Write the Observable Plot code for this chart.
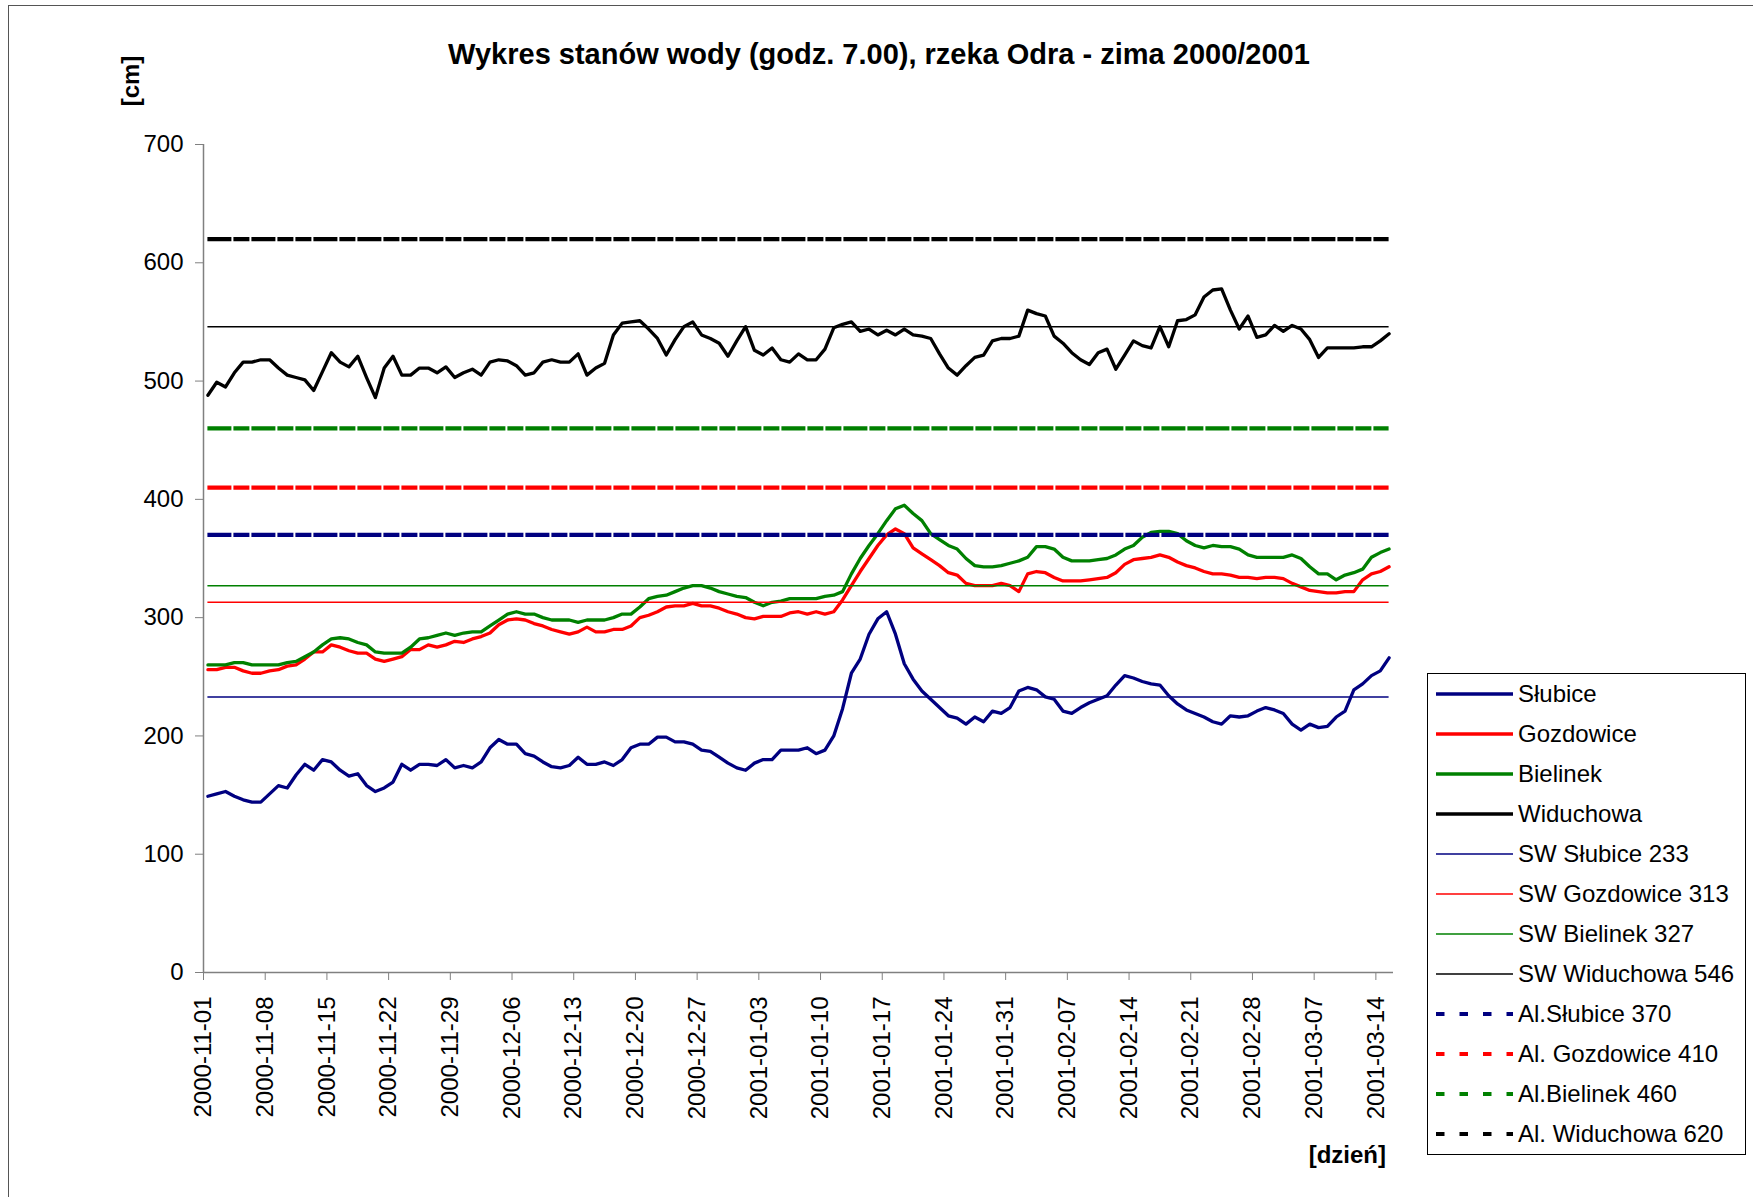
<!DOCTYPE html>
<html>
<head>
<meta charset="utf-8">
<script src="https://cdn.jsdelivr.net/npm/d3@7"></script>
<script src="https://cdn.jsdelivr.net/npm/@observablehq/plot@0.6"></script>
<style>
  html, body { margin: 0; padding: 0; background: #fff; }
  #wrap { position: relative; width: 1753px; height: 1197px; overflow: hidden; background: #fff;
          font-family: "Liberation Sans", Arial, sans-serif; color: #000; }
  #wrap svg.plot { position: absolute; left: 0; top: 0; }
  .frame { position: absolute; left: 8px; top: 5px; width: 2000px; height: 2000px;
           border-left: 1.5px solid #555; border-top: 1.5px solid #555; }
  .title { position: absolute; left: 0; top: 40px; width: 1758px; text-align: center;
           font-weight: bold; font-size: 29px; line-height: 29px; white-space: nowrap; }
  .ylab { position: absolute; left: 131px; top: 81px; font-weight: bold; font-size: 24px;
          line-height: 24px; transform: translate(-50%, -50%) rotate(-90deg); white-space: nowrap; }
  .xlab { position: absolute; right: 367px; top: 1143px; font-weight: bold; font-size: 24px;
          line-height: 24px; white-space: nowrap; }
  .legend { position: absolute; left: 1427px; top: 673px; width: 319px; height: 482px;
            border: 1px solid #000; box-sizing: border-box; background: #fff; }
  .legend .row { position: absolute; left: 0; height: 40px; width: 100%; }
  .legend svg { position: absolute; left: 8px; top: 15px; }
  .legend span { position: absolute; left: 90px; top: 8px; font-size: 24px; line-height: 24px; white-space: nowrap; }
</style>
</head>
<body>
<div id="wrap">
  <div class="frame"></div>
</div>
<script>
// ---- data ----
const startDate = "2000-11-01"; // first day of the daily series

const slubice = [
  149,151,153,149,146,144,144,151,158,156,167,176,171,180,178,171,166,168,158,153,
  156,161,176,171,176,176,175,180,173,175,173,178,190,197,
  193,193,185,183,178,174,173,175,182,176,176,178,175,180,190,193,193,199,199,195,
  195,193,188,187,182,177,173,171,177,180,180,188,188,188,
  190,185,188,200,223,253,265,286,299,305,286,261,248,238,231,224,217,215,210,216,
  212,221,219,224,238,241,239,233,231,221,219,224,228,231,
  234,243,251,249,246,244,243,234,227,222,219,216,212,210,217,216,217,221,224,222,
  219,210,205,210,207,208,216,221,239,244,251,255,266
];
const gozdowice = [
  256,256,258,258,255,253,253,255,256,259,260,265,271,271,277,275,272,270,270,265,
  263,265,267,273,273,277,275,277,280,279,282,284,287,294,
  298,299,298,295,293,290,288,286,288,292,288,288,290,290,293,300,302,305,309,310,
  310,312,310,310,308,305,303,300,299,301,301,301,304,305,
  303,305,303,305,315,327,339,350,361,370,375,371,359,354,349,344,338,336,329,327,
  327,327,329,327,322,337,339,338,334,331,331,331,332,333,
  334,338,345,349,350,351,353,351,347,344,342,339,337,337,336,334,334,333,334,334,
  333,329,326,323,322,321,321,322,322,332,337,339,343
];
const bielinek = [
  260,260,260,262,262,260,260,260,260,262,263,267,271,277,282,283,282,279,277,271,
  270,270,270,275,282,283,285,287,285,287,288,288,293,298,
  303,305,303,303,300,298,298,298,296,298,298,298,300,303,303,309,316,318,319,322,
  325,327,327,325,322,320,318,317,313,310,313,314,316,316,
  316,316,318,319,322,337,350,361,371,382,392,395,388,382,371,366,361,358,350,344,
  343,343,344,346,348,351,360,360,358,351,348,348,348,349,
  350,353,358,361,368,372,373,373,371,365,361,359,361,360,360,358,353,351,351,351,
  351,353,350,343,337,337,332,336,338,341,351,355,358
];
const widuchowa = [
  488,499,495,507,516,516,518,518,511,505,503,501,492,508,524,516,512,521,503,486,
  511,521,505,505,511,511,507,512,503,507,510,505,516,518,
  517,513,505,507,516,518,516,516,523,505,511,515,539,549,550,551,544,536,522,535,
  546,550,539,536,532,521,534,546,526,522,528,518,516,523,
  518,518,527,545,548,550,542,544,539,543,539,544,539,538,536,523,511,505,513,520,
  522,534,536,536,538,560,557,555,538,532,524,518,514,524,
  527,510,522,534,530,528,546,529,551,552,556,571,577,578,560,544,555,537,539,547,
  542,547,544,535,520,528,528,528,528,529,529,534,540
];

const seriesNames  = ["Słubice", "Gozdowice", "Bielinek", "Widuchowa"];
const seriesColors = ["#000080", "#ff0000", "#008000", "#000000"];
const swNames  = ["SW Słubice 233", "SW Gozdowice 313", "SW Bielinek 327", "SW Widuchowa 546"];
const swValues = [233, 313, 327, 546];
const alNames  = ["Al.Słubice 370", "Al. Gozdowice 410", "Al.Bielinek 460", "Al. Widuchowa 620"];
const alValues = [370, 410, 460, 620];

const xTickLabels = [
  "2000-11-01","2000-11-08","2000-11-15","2000-11-22","2000-11-29","2000-12-06","2000-12-13",
  "2000-12-20","2000-12-27","2001-01-03","2001-01-10","2001-01-17","2001-01-24","2001-01-31",
  "2001-02-07","2001-02-14","2001-02-21","2001-02-28","2001-03-07","2001-03-14"
];
const yTicks = [0, 100, 200, 300, 400, 500, 600, 700];

const titleText = "Wykres stanów wody (godz. 7.00), rzeka Odra - zima 2000/2001";
const yLabelText = "[cm]";
const xLabelText = "[dzień]";

// ---- build ----
const parse = d3.utcParse("%Y-%m-%d");
const day0 = parse(startDate);
const allValues = [slubice, gozdowice, bielinek, widuchowa];
const nDays = slubice.length;
const pointDate = i => d3.utcHour.offset(d3.utcDay.offset(day0, i), 12); // category centre
const table = allValues.flatMap((vals, k) =>
  vals.map((v, i) => ({series: seriesNames[k], date: pointDate(i), value: v})));
const firstPoint = pointDate(0);
const lastPoint = pointDate(nDays - 1);

const alDash = "24,2,16,2,24,2,16,2,16,2";
const axisGray = "#808080";

const marks = [
  Plot.ruleY([0], {stroke: axisGray, strokeWidth: 1.5}),
  Plot.ruleX([day0], {stroke: axisGray, strokeWidth: 1.5}),
  ...seriesNames.map((name, k) =>
    Plot.line(table.filter(d => d.series === name),
      {x: "date", y: "value", stroke: seriesColors[k], strokeWidth: 3.3, strokeLinejoin: "round"})),
  ...swValues.map((v, k) =>
    Plot.ruleY([v], {x1: () => firstPoint, x2: () => lastPoint, stroke: seriesColors[k], strokeWidth: 1.5})),
  ...alValues.map((v, k) =>
    Plot.ruleY([v], {x1: () => firstPoint, x2: () => lastPoint, stroke: seriesColors[k], strokeWidth: 4.2,
      strokeDasharray: alDash, strokeLinecap: "butt"})),
  Plot.axisY({ticks: yTicks, tickSize: 8, tickPadding: 12, fontSize: 24, stroke: axisGray, fill: "#000", label: null}),
  Plot.axisX({ticks: xTickLabels.map(parse), tickFormat: d3.utcFormat("%Y-%m-%d"), tickRotate: -90,
    tickSize: 8, tickPadding: 16, fontSize: 24, stroke: axisGray, fill: "#000", label: null})
];

const chart = Plot.plot({
  width: 1753,
  height: 1197,
  marginLeft: 203,
  marginTop: 144,
  marginBottom: 225,
  marginRight: 360,
  style: {fontFamily: "'Liberation Sans', Arial, sans-serif", fontSize: "24px", color: "#000", background: "transparent", overflow: "visible"},
  x: {type: "utc", domain: [day0, d3.utcDay.offset(day0, nDays)], label: null},
  y: {domain: [0, 700], label: null},
  marks
});
chart.classList.add("plot");

const wrap = document.getElementById("wrap");
wrap.appendChild(chart);

function addDiv(cls, text) {
  const d = document.createElement("div");
  d.className = cls;
  d.textContent = text;
  wrap.appendChild(d);
  return d;
}
addDiv("title", titleText);
addDiv("ylab", yLabelText);
addDiv("xlab", xLabelText);

// legend
const legend = document.createElement("div");
legend.className = "legend";
const entries = [
  ...seriesNames.map((n, k) => ({name: n, color: seriesColors[k], w: 3.3, dash: null})),
  ...swNames.map((n, k) => ({name: n, color: seriesColors[k], w: 1.5, dash: null})),
  ...alNames.map((n, k) => ({name: n, color: seriesColors[k], w: 4.2, dash: "8.5,15"}))
];
entries.forEach((e, k) => {
  const row = document.createElement("div");
  row.className = "row";
  row.style.top = (40 * k) + "px";
  const ns = "http://www.w3.org/2000/svg";
  const svg = document.createElementNS(ns, "svg");
  svg.setAttribute("width", 78);
  svg.setAttribute("height", 10);
  const ln = document.createElementNS(ns, "line");
  ln.setAttribute("x1", 0); ln.setAttribute("x2", 77);
  ln.setAttribute("y1", 5); ln.setAttribute("y2", 5);
  ln.setAttribute("stroke", e.color);
  ln.setAttribute("stroke-width", e.w);
  if (e.dash) ln.setAttribute("stroke-dasharray", e.dash);
  svg.appendChild(ln);
  const sp = document.createElement("span");
  sp.textContent = e.name;
  row.appendChild(svg);
  row.appendChild(sp);
  legend.appendChild(row);
});
wrap.appendChild(legend);
</script>
</body>
</html>
